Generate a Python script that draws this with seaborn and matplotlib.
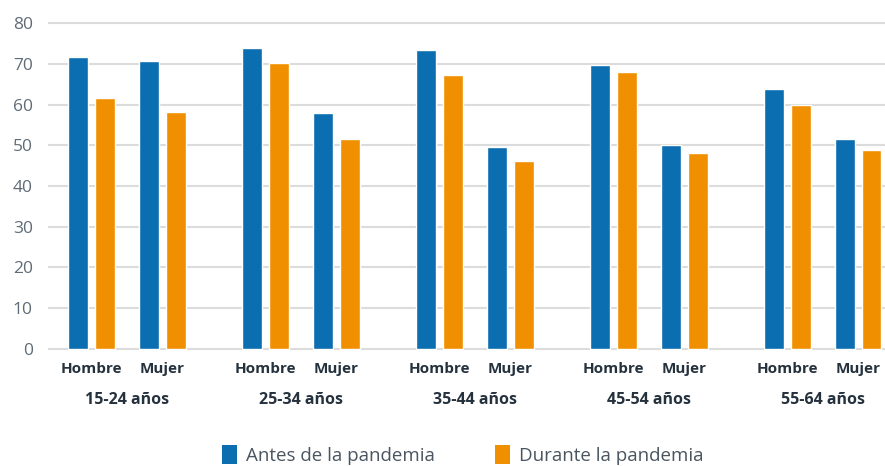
import numpy as np
import pandas as pd
import matplotlib
matplotlib.use("Agg")
import matplotlib.pyplot as plt
from matplotlib.patches import Patch
import seaborn as sns

grupos = ["15-24 años", "25-34 años", "35-44 años", "45-54 años", "55-64 años"]
sexos = ["Hombre", "Mujer"]
series = ["Antes de la pandemia", "Durante la pandemia"]
antes = [71.7, 70.7, 74.0, 57.9, 73.4, 49.6, 69.8, 50.2, 63.9, 51.5]
durante = [61.7, 58.3, 70.2, 51.5, 67.4, 46.1, 68.0, 48.2, 60.0, 48.8]
colores = ["#0a6eb1", "#f09000"]

sns.set_theme(style="white")
plt.rcParams["font.family"] = ["Open Sans", "DejaVu Sans"]

# layout positions (group step and sex step)
GSTEP, SSTEP = 2.45, 1.0
pos, rows = [], []
k = 0
for gi, g in enumerate(grupos):
    for si, s in enumerate(sexos):
        x = gi * GSTEP + si * SSTEP
        pos.append(x)
        rows.append({"x": x, "serie": series[0], "valor": antes[k]})
        rows.append({"x": x, "serie": series[1], "valor": durante[k]})
        k += 1
df = pd.DataFrame(rows)

W, H = 885, 466
fig = plt.figure(figsize=(W / 100, H / 100), dpi=100)
top_px, bot_px = 21.3, 350.7
ax = fig.add_axes([48 / W, 1 - bot_px / H, 1 - 48 / W, (bot_px - top_px) / H])

sns.barplot(data=df, x="x", y="valor", hue="serie", hue_order=series,
            palette=colores, native_scale=True, width=0.76, gap=0.26,
            legend=False, ax=ax, saturation=1, errorbar=None)

ax.set_xlim(-0.613, 11.18)
ax.set_ylim(-0.5, 80.5)
ax.set_yticks(np.arange(0, 81, 10))
ax.set_yticklabels([str(v) for v in range(0, 81, 10)], fontsize=12.5, color="#5f6b76")
ax.yaxis.grid(True, color="#dcdcdc", linewidth=1.5)
ax.set_axisbelow(True)
for sp in ax.spines.values():
    sp.set_visible(False)
ax.tick_params(axis="both", length=0)
ax.tick_params(axis="y", pad=11)
ax.set_xticks(pos)
ax.set_xticklabels(sexos * len(grupos), fontsize=11, fontweight="bold", color="#25323e")
ax.tick_params(axis="x", pad=8)
ax.set_xlabel("")
ax.set_ylabel("")

for gi, g in enumerate(grupos):
    ax.annotate(g, xy=(gi * GSTEP + SSTEP / 2, 0), xycoords=ax.get_xaxis_transform(),
                xytext=(0, -(400 - bot_px)), textcoords="offset pixels",
                ha="center", va="center", fontsize=11.5, fontweight="bold", color="#25323e")

handles = [Patch(facecolor=c, edgecolor="none") for c in colores]
fig.legend(handles, series, loc="center", bbox_to_anchor=(0.523, 1 - 455 / H),
           ncol=2, frameon=False, fontsize=13.5, handlelength=0.8, handleheight=1.2,
           handletextpad=0.5, columnspacing=3.2, labelcolor="#4a5560")

fig.savefig("out.png", dpi=100)
